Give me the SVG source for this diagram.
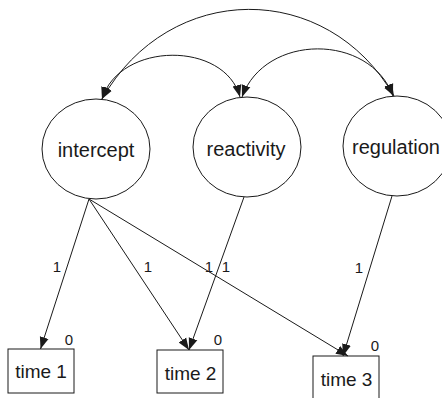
<svg xmlns="http://www.w3.org/2000/svg" width="442" height="398" viewBox="0 0 442 398">
<style>
.node ellipse, .node rect { fill: #fff; stroke: #1a1a1a; stroke-width: 1; }
.lbl { font-family: "Liberation Sans", Arial, sans-serif; font-size: 20px; fill: #1a1a1a; text-anchor: middle; }
.box { font-family: "Liberation Sans", Arial, sans-serif; font-size: 19px; fill: #1a1a1a; text-anchor: middle; }
.small { font-family: "Liberation Sans", Arial, sans-serif; font-size: 15px; fill: #1a1a1a; text-anchor: middle; }
.edge { fill: none; stroke: #1a1a1a; stroke-width: 1; }
</style>
<defs>
<marker id="ah" markerUnits="userSpaceOnUse" markerWidth="13" markerHeight="10" refX="12" refY="4.5" orient="auto-start-reverse" viewBox="0 0 13 9">
<path d="M0,0 L12,4.5 L0,9 z" fill="#1a1a1a"/>
</marker>
</defs>
<g id="intercept" class="node">
<ellipse cx="96" cy="149" rx="54" ry="50"/>
<text class="lbl" x="96" y="157">intercept</text>
</g>
<g id="reactivity" class="node">
<ellipse cx="247" cy="147" rx="54" ry="50"/>
<text class="lbl" x="246" y="156">reactivity</text>
</g>
<g id="regulation" class="node">
<ellipse cx="397" cy="146" rx="54" ry="50"/>
<text class="lbl" x="396" y="154">regulation</text>
</g>
<g id="time1" class="node">
<rect x="8" y="349" width="66" height="44"/>
<text class="box" x="41" y="378">time 1</text>
<text class="small" x="69" y="345">0</text>
</g>
<g id="time2" class="node">
<rect x="157" y="350" width="66" height="43"/>
<text class="box" x="190.5" y="380">time 2</text>
<text class="small" x="218" y="345">0</text>
</g>
<g id="time3" class="node">
<rect x="313" y="356" width="66" height="44"/>
<text class="box" x="346.5" y="386">time 3</text>
<text class="small" x="375" y="351">0</text>
</g>
<g id="connectors">
<path class="edge" d="M102,99 C170,-20 327,-20 394,96" marker-start="url(#ah)" marker-end="url(#ah)"/>
<path class="edge" d="M102,99 C120,41 225,41 240,97" marker-start="url(#ah)" marker-end="url(#ah)"/>
<path class="edge" d="M242,97 C265,33 370,33 393,96" marker-start="url(#ah)" marker-end="url(#ah)"/>
<line class="edge" x1="89" y1="199" x2="40.5" y2="349" marker-end="url(#ah)"/>
<line class="edge" x1="89" y1="199" x2="189" y2="350" marker-end="url(#ah)"/>
<line class="edge" x1="89" y1="199" x2="348" y2="356" marker-end="url(#ah)"/>
<line class="edge" x1="244" y1="197" x2="189" y2="350" marker-end="url(#ah)"/>
<line class="edge" x1="392" y1="196" x2="343" y2="356" marker-end="url(#ah)"/>
<text class="small" x="57" y="272">1</text>
<text class="small" x="148" y="272">1</text>
<text class="small" x="209" y="272">1</text>
<text class="small" x="226" y="272">1</text>
<text class="small" x="359" y="273">1</text>
</g>
</svg>
